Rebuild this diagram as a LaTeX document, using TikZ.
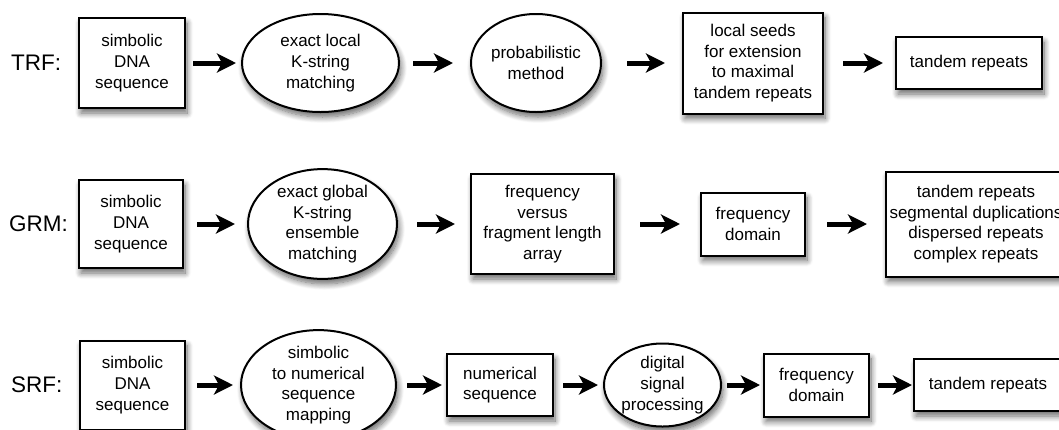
\documentclass[tikz,border=0pt]{standalone}
\usepackage{fontspec}
\setmainfont{Liberation Sans}
\usetikzlibrary{arrows.meta,shapes.geometric,shadows.blur}
\begin{document}
\begin{tikzpicture}[x=1pt,y=-1pt,
  base/.style={draw=black, line width=2pt, fill=white, align=center, inner sep=0pt,
    font=\fontsize{17}{20.6}\selectfont,
    blur shadow={shadow xshift=2pt, shadow yshift=-5pt, shadow blur radius=6pt, shadow blur steps=10, shadow opacity=60}},
  boxnode/.style={base, rectangle},
  ellnode/.style={base, ellipse},
  arr/.style={line width=5pt, -{Stealth[length=19pt, width=19pt, inset=5pt]}},
  rowlabel/.style={font=\fontsize{22.5}{26}\selectfont, anchor=west, inner sep=0pt}
]
\useasboundingbox (0,0) rectangle (1059,429);
\clip (0,0) rectangle (1059,429);

% Row 1: TRF
\node[rowlabel] (l1) at (11,63) {TRF:};
\node[boxnode, minimum width=106pt, minimum height=90pt] (b11) at (132,63) {simbolic\\DNA\\sequence};
\node[ellnode, minimum width=157pt, minimum height=98pt] (e12) at (320.5,63) {exact local\\K-string\\matching};
\node[ellnode, minimum width=130pt, minimum height=98pt] (e13) at (536,63) {probabilistic\\method};
\node[boxnode, minimum width=140pt, minimum height=101pt] (b14) at (753,63) {local seeds\\for extension\\to maximal\\tandem repeats};
\node[boxnode, minimum width=146pt, minimum height=52pt] (b15) at (969,63) {tandem repeats};
\draw[arr, shorten <=7pt, shorten >=5pt] (b11) -- (e12);
\draw[arr, shorten <=13pt, shorten >=17pt] (e12) -- (e13);
\draw[arr, shorten <=25pt, shorten >=17pt] (e13) -- (b14);
\draw[arr, shorten <=19pt, shorten >=12pt] (b14) -- (b15);

% Row 2: GRM
\node[rowlabel] (l2) at (9,224) {GRM:};
\node[boxnode, minimum width=104pt, minimum height=88pt] (b21) at (131,224) {simbolic\\DNA\\sequence};
\node[ellnode, minimum width=149pt, minimum height=100pt] (e22) at (322.5,224) {exact global\\K-string\\ensemble\\matching};
\node[boxnode, minimum width=143pt, minimum height=100pt] (b23) at (542.5,224) {frequency\\versus\\fragment length\\array};
\node[boxnode, minimum width=104pt, minimum height=63pt] (b24) at (753,224) {frequency\\domain};
\node[boxnode, minimum width=180pt, minimum height=105pt] (b25) at (976,224) {tandem repeats\\segmental duplications\\dispersed repeats\\complex repeats};
\draw[arr, shorten <=13pt, shorten >=12pt] (b21) -- (e22);
\draw[arr, shorten <=19pt, shorten >=15pt] (e22) -- (b23);
\draw[arr, shorten <=25pt, shorten >=20pt] (b23) -- (b24);
\draw[arr, shorten <=21pt, shorten >=18pt] (b24) -- (b25);

% Row 3: SRF
\node[rowlabel] (l3) at (11,385) {SRF:};
\node[boxnode, minimum width=105pt, minimum height=89pt] (b31) at (132.5,385) {simbolic\\DNA\\sequence};
\node[ellnode, minimum width=155pt, minimum height=102pt] (e32) at (318.5,385) {simbolic\\to numerical\\sequence\\mapping};
\node[boxnode, minimum width=106pt, minimum height=62pt] (b33) at (500,385) {numerical\\sequence};
\node[ellnode, minimum width=117pt, minimum height=83pt] (e34) at (662.5,385) {digital\\signal\\processing};
\node[boxnode, minimum width=105pt, minimum height=63pt] (b35) at (816.5,385) {frequency\\domain};
\node[boxnode, minimum width=148pt, minimum height=52pt] (b36) at (988,385) {tandem repeats};
\draw[arr, shorten <=11pt, shorten >=7pt] (b31) -- (e32);
\draw[arr, shorten <=10pt, shorten >=4pt] (e32) -- (b33);
\draw[arr, shorten <=9pt, shorten >=5pt] (b33) -- (e34);
\draw[arr, shorten <=5pt, shorten >=3pt] (e34) -- (b35);
\draw[arr, shorten <=8pt, shorten >=1pt] (b35) -- (b36);
\end{tikzpicture}
\end{document}
